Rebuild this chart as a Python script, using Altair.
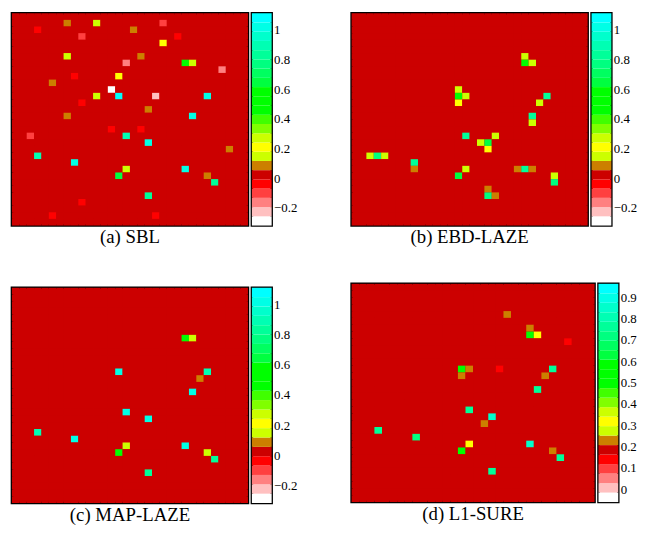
import altair as alt
import pandas as pd

N = 32  # grid size (rows x cols)

# discrete colormap, bottom (lowest) to top (highest)
COLORS = [
    "#ffffff", "#ffc0c0", "#ff8080", "#ff4040", "#ff0000", "#cc0000",
    "#cc7f00", "#ccff00", "#ffff00", "#ccff00", "#80ff00", "#40ff00",
    "#00ff00", "#00ff00", "#00ff00", "#00ff40", "#00ff60", "#00ff80",
    "#00ff99", "#00ffb3", "#00ffcc", "#00ffe6", "#00ffff",
]

# colour ranges of the colour bars
ABC_MIN, ABC_MAX = -0.318, 1.113
D_MIN, D_MAX = -0.059, 0.962
ABC_TICKS = [-0.2, 0, 0.2, 0.4, 0.6, 0.8, 1]
D_TICKS = [0, 0.1, 0.2, 0.3, 0.4, 0.5, 0.6, 0.7, 0.8, 0.9]
ABC_BG = 0.0
D_BG = 0.19
CBAR_W = 20

# (a) SBL
SBL_ROW = [1, 1, 1, 2, 2, 3, 3, 4, 6, 6, 7, 7, 7, 8, 9, 9, 10, 11, 12, 12, 12, 12,
           13, 14, 15, 15, 17, 17, 18, 18, 19, 20, 21, 22, 23, 23, 24, 24, 25, 27, 28, 30, 30]
SBL_COL = [7, 11, 20, 3, 16, 9, 22, 20, 7, 17, 15, 23, 24, 28, 8, 14, 5, 13, 11, 14, 19, 26,
           9, 18, 7, 24, 13, 17, 2, 15, 18, 29, 3, 8, 15, 23, 14, 26, 27, 18, 9, 5, 19]
SBL_VAL = [0.086, 0.15, -0.10, -0.04, 0.086, -0.10, -0.04, 0.21, 0.15, 0.086, -0.16, 0.60, 0.15,
           -0.16, -0.04, 0.21, 0.086, -0.29, 0.15, 1.08, -0.22, 1.02, -0.04, 0.086, 0.086, 1.05,
           -0.04, -0.04, -0.10, 0.92, 1.05, 0.086, 0.92, 1.00, 0.15, 1.05, 0.62, 0.086, 0.83,
           0.83, -0.04, -0.04, -0.04]

# (b) EBD-LAZE
EBD_ROW = [6, 7, 7, 11, 12, 12, 13, 12, 13, 15, 16, 18, 18, 19, 19, 20, 21, 21, 21, 22,
           23, 23, 24, 23, 23, 23, 24, 25, 26, 27, 27]
EBD_COL = [23, 23, 24, 14, 14, 15, 14, 26, 25, 24, 24, 15, 19, 17, 18, 18, 2, 3, 4, 8,
           8, 15, 14, 22, 23, 24, 27, 27, 18, 18, 19]
EBD_VAL = [0.15, 0.52, 0.15, 0.15, 0.52, 0.15, 0.21, 0.83, 0.15, 0.83, 0.15, 0.83, 0.15,
           0.15, 0.62, 0.21, 0.15, 0.77, 0.15, 0.83, 0.086, 0.15, 0.62, 0.086, 0.83, 0.086,
           0.15, 0.77, 0.086, 0.77, 0.086]

# (c) MAP-LAZE
MAP_ROW = [7, 7, 12, 12, 13, 15, 18, 19, 21, 22, 23, 23, 24, 24, 25, 27]
MAP_COL = [23, 24, 14, 26, 25, 24, 15, 18, 3, 8, 15, 23, 14, 26, 27, 18]
MAP_VAL = [0.60, 0.15, 1.05, 0.90, 0.086, 1.05, 1.00, 1.05, 0.90, 1.00, 0.15, 1.00, 0.60,
           0.15, 0.83, 0.83]

# (d) L1-SURE
L1_ROW = [4, 6, 7, 7, 8, 12, 12, 13, 12, 12, 13, 15, 18, 19, 20, 21, 22, 23, 24, 23, 24, 25, 27]
L1_COL = [20, 23, 23, 24, 28, 14, 15, 14, 19, 26, 25, 24, 15, 18, 17, 3, 8, 15, 14, 23, 26, 27, 18]
L1_VAL = [0.23, 0.23, 0.54, 0.32, 0.14, 0.54, 0.23, 0.23, 0.14, 0.76, 0.23, 0.76, 0.76, 0.87,
          0.23, 0.76, 0.72, 0.32, 0.60, 0.87, 0.23, 0.76, 0.76]

SERIF = "Times New Roman, Liberation Serif, serif"


def grid_df(rows, cols, vals, bg):
    cells = {(r, c): bg for r in range(N) for c in range(N)}
    for r, c, v in zip(rows, cols, vals):
        cells[(r, c)] = v
    return pd.DataFrame([{"row": r, "col": c, "value": v} for (r, c), v in cells.items()])


def cscale(lo, hi):
    return alt.Scale(type="quantize", domain=[lo, hi], range=COLORS, nice=False, zero=False)


def heat(df, lo, hi, title, w, h):
    return alt.Chart(df).mark_rect().encode(
        x=alt.X("col:O", axis=None, scale=alt.Scale(paddingInner=0, paddingOuter=0)),
        y=alt.Y("row:O", axis=None, scale=alt.Scale(paddingInner=0, paddingOuter=0)),
        color=alt.Color("value:Q", scale=cscale(lo, hi), legend=None),
    ).properties(
        width=w, height=h,
        view=alt.ViewBackground(fill="#cc0000", stroke="black", strokeWidth=2.6),
        title=alt.TitleParams(title, orient="bottom", anchor="middle", offset=3,
                              font=SERIF, fontSize=19, fontWeight="normal", color="black"),
    )


def cbar(lo, hi, ticks, h):
    n = len(COLORS)
    step = (hi - lo) / n
    bands = pd.DataFrame({"lo": [lo + i * step for i in range(n)],
                          "hi": [lo + (i + 1) * step for i in range(n)]})
    bands["mid"] = (bands["lo"] + bands["hi"]) / 2
    ysc = alt.Scale(domain=[lo, hi], nice=False, zero=False)
    return alt.Chart(bands).mark_rect().encode(
        y=alt.Y("lo:Q", scale=ysc, axis=alt.Axis(
            orient="right", values=ticks, format="~g", tickSize=2, offset=-2, labelPadding=2,
            domain=False, grid=False, title=None, tickColor="black", tickWidth=1,
            labelFont=SERIF, labelFontSize=13, labelColor="black")),
        y2="hi:Q",
        color=alt.Color("mid:Q", scale=cscale(lo, hi), legend=None),
    ).properties(
        width=CBAR_W, height=h,
        view=alt.ViewBackground(stroke="black", strokeWidth=2.6))


def panel(rows, cols, vals, bg, lo, hi, ticks, title, w, h):
    return alt.hconcat(
        heat(grid_df(rows, cols, vals, bg), lo, hi, title, w, h),
        cbar(lo, hi, ticks, h),
        spacing=0,
    ).resolve_scale(color="independent")


pa = panel(SBL_ROW, SBL_COL, SBL_VAL, ABC_BG, ABC_MIN, ABC_MAX, ABC_TICKS, "(a) SBL", 239, 215)
pb = panel(EBD_ROW, EBD_COL, EBD_VAL, ABC_BG, ABC_MIN, ABC_MAX, ABC_TICKS, "(b) EBD-LAZE", 239, 215)
pc = panel(MAP_ROW, MAP_COL, MAP_VAL, ABC_BG, ABC_MIN, ABC_MAX, ABC_TICKS, "(c) MAP-LAZE", 239, 218)
pd_ = panel(L1_ROW, L1_COL, L1_VAL, D_BG, D_MIN, D_MAX, D_TICKS, "(d) L1-SURE", 246, 221)

left_col = alt.vconcat(pa, pc, spacing=37).resolve_scale(color="independent")
right_col = alt.vconcat(pb, pd_, spacing=33).resolve_scale(color="independent")

chart = alt.hconcat(left_col, right_col, spacing=52).resolve_scale(
    color="independent"
).properties(
    padding={"left": 2, "top": 0, "right": 0, "bottom": 0}
).configure(background="white")

chart.save("out.html", embed_options={"renderer": "svg", "actions": False})
